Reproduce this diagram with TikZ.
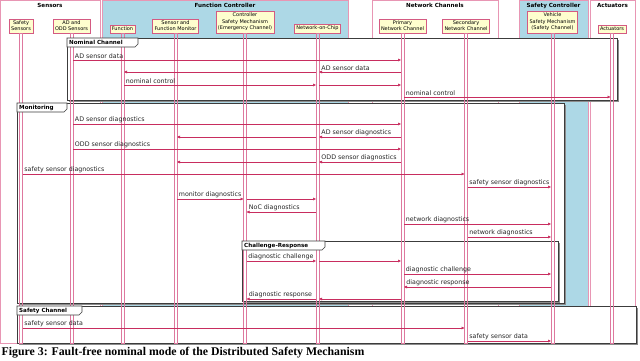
\documentclass[tikz,border=0pt]{standalone}
\usepackage{fontspec}
\setmainfont{DejaVu Sans}
\newfontfamily\capfont{Liberation Serif}
\usetikzlibrary{calc,arrows.meta,shadows}
\definecolor{msgc}{RGB}{200,45,95}
\definecolor{lifec}{RGB}{222,120,158}
\definecolor{colc}{RGB}{232,150,180}
\definecolor{partc}{RGB}{212,90,130}
\definecolor{partfill}{RGB}{254,254,206}
\definecolor{bluec}{RGB}{173,216,230}
\definecolor{framec}{RGB}{60,60,60}
\newcommand\msgR[4]{\draw[msg] ($(#1.south |- 0,#3)+(1.5,0)$) -- ($(#2.south |- 0,#3)+(-1.5,0)$) node[lbl, pos=0, xshift=1pt] {#4};}
\newcommand\msgL[4]{\draw[msg] ($(#1.south |- 0,#3)+(-1.5,0)$) -- ($(#2.south |- 0,#3)+(1.5,0)$) node[lbl, pos=1, xshift=1.5pt] {#4};}
\newcommand\gframe[5]{% x0 y0 x1 y1 tabwidth
  \fill[black!45] (#1+2,#2+2) rectangle (#3+2,#4+2);
  \draw[framec, fill=white, line width=0.6pt] (#1,#2) rectangle (#3,#4);}
\newcommand\gtab[5]{% name x0 y0 w text
  \draw[framec, fill=white, line width=0.6pt] (#2,#3) -- (#2+#4,#3) -- (#2+#4,#3+6) -- (#2+#4-3,#3+9) -- (#2,#3+9) -- cycle;
  \node[tabtxt] (#1) at (#2+2,#3+4.5) {#5};}
\newcommand\lifeline[1]{\draw[life] ($(#1.south)+(-1.5,0)$) rectangle ($(#1.south |- 0,343)+(1.5,0)$);}
\begin{document}
\begin{tikzpicture}[x=1pt,y=-1pt,
  colbox/.style={draw=colc, line width=0.5pt},
  coltitle/.style={font=\fontsize{5.6}{6}\selectfont\bfseries, inner sep=0pt},
  part/.style={draw=partc, fill=partfill, font=\fontsize{5}{6.5}\selectfont, align=center,
     inner xsep=2pt, inner ysep=1.8pt, anchor=south, line width=0.5pt,
     drop shadow={shadow xshift=0.8pt, shadow yshift=-0.8pt, fill=black!30}},
  life/.style={draw=lifec, line width=0.45pt},
  msg/.style={draw=msgc, line width=0.5pt, -{Triangle[length=3pt,width=2.6pt]}},
  lbl/.style={font=\fontsize{6.3}{7}\selectfont, anchor=south west, inner sep=0.7pt, text=black!85},
  tabtxt/.style={font=\fontsize{5.6}{6}\selectfont\bfseries, anchor=west, inner sep=0pt}]
\useasboundingbox (0,0) rectangle (640,360);
% columns
\draw[colbox, fill=white] (0.3,0.3) rectangle (100,343);
\draw[colbox, fill=bluec] (102,0.3) rectangle (348,343);
\draw[colbox, fill=white] (372,0.3) rectangle (498,343);
\draw[colbox, fill=bluec] (519,0.3) rectangle (588,343);
\draw[colbox, fill=white] (590,0.3) rectangle (635,343);
\node[coltitle] (tSen) at (50,5.5) {Sensors};
\node[coltitle] (tFC) at (225,5.5) {Function Controller};
\node[coltitle] (tNC) at (435,5.5) {Network Channels};
\node[coltitle] (tSC) at (553.5,5.5) {Safety Controller};
\node[coltitle] (tAct) at (612.5,5.5) {Actuators};
% frames
\gframe{67}{38}{617}{100}{71}
\gframe{17}{103}{564}{303}{50}
\gframe{242}{241}{558}{301}{83}
\gframe{17}{306}{636}{343}{65}
% participants
\node[part] (SS) at (21,33) {Safety\\Sensors};
\node[part] (AD) at (71.5,33) {AD and\\ODD Sensors};
\node[part] (FN) at (122.5,33) {Function};
\node[part] (MON) at (175.5,33) {Sensor and\\Function Monitor};
\node[part] (CSM) at (245,33) {Controller\\Safety Mechanism\\(Emergency Channel)};
\node[part] (NOC) at (317.5,33) {Network-on-Chip};
\node[part] (PRI) at (402.5,33) {Primary\\Network Channel};
\node[part] (SEC) at (466,33) {Secondary\\Network Channel};
\node[part] (VSM) at (552.5,33) {Vehicle\\Safety Mechanism\\(Safety Channel)};
\node[part] (ACT) at (612,33) {Actuators};
% lifelines
\foreach \p in {SS,AD,FN,MON,CSM,NOC,PRI,SEC,VSM,ACT} {\lifeline{\p}}
% Nominal Channel
\msgR{AD}{PRI}{60}{AD sensor data}
\msgL{PRI}{NOC}{72}{AD sensor data}
\msgL{NOC}{FN}{72}{}
\msgR{FN}{NOC}{85}{nominal control}
\msgR{NOC}{PRI}{85}{}
\msgR{PRI}{ACT}{97}{nominal control}
% Monitoring
\msgR{AD}{PRI}{124}{AD sensor diagnostics}
\msgL{PRI}{NOC}{137}{AD sensor diagnostics}
\msgL{NOC}{MON}{137}{}
\msgR{AD}{PRI}{149}{ODD sensor diagnostics}
\msgL{PRI}{NOC}{162}{ODD sensor diagnostics}
\msgL{NOC}{MON}{162}{}
\msgR{SS}{SEC}{174}{safety sensor diagnostics}
\msgR{SEC}{VSM}{187}{safety sensor diagnostics}
\msgR{MON}{CSM}{199}{monitor diagnostics}
\msgR{CSM}{NOC}{199}{}
\msgL{NOC}{CSM}{212}{NoC diagnostics}
\msgR{PRI}{VSM}{224}{network diagnostics}
\msgR{SEC}{VSM}{237}{network diagnostics}
% Challenge-Response
\msgR{CSM}{NOC}{261}{diagnostic challenge}
\msgR{NOC}{PRI}{261}{}
\msgR{PRI}{VSM}{274}{diagnostic challenge}
\msgL{VSM}{PRI}{287}{diagnostic response}
\msgL{PRI}{NOC}{299}{}
\msgL{NOC}{CSM}{299}{diagnostic response}
% Safety Channel
\msgR{SS}{SEC}{328}{safety sensor data}
\msgR{SEC}{VSM}{341}{safety sensor data}
% tabs
\gtab{fNom}{67}{38}{71}{Nominal Channel}
\gtab{fMon}{17}{103}{50}{Monitoring}
\gtab{fCR}{242}{241}{83}{Challenge-Response}
\gtab{fSaf}{17}{306}{65}{Safety Channel}
% caption
\node[font=\capfont\fontsize{11.8}{13}\selectfont\bfseries, anchor=west, inner sep=0pt] (cap) at (1.5,352.5) {Figure 3: Fault-free nominal mode of the Distributed Safety Mechanism};
\end{tikzpicture}
\end{document}
